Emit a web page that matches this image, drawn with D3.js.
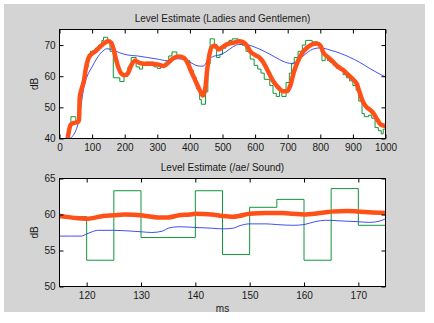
<!DOCTYPE html>
<html>
<head>
<meta charset="utf-8">
<script src="https://cdn.jsdelivr.net/npm/d3@7"></script>
<style>
  html, body { margin: 0; padding: 0; background: #ffffff; }
  svg { display: block; }
  text { font-family: "Liberation Sans", Arial, Helvetica, sans-serif; fill: #1a1a1a; }
</style>
</head>
<body>
<svg id="chart" width="434" height="323"></svg>
<script>
// ---------- data: top panel (Ladies and Gentlemen) ----------
const topTitle = "Level Estimate (Ladies and Gentlemen)";
const topXTicks = [0, 100, 200, 300, 400, 500, 600, 700, 800, 900, 1000];
const topYTicks = [40, 50, 60, 70];

// green: frame level estimate (staircase)
const topGreenX = [25, 30, 35, 50, 62, 68, 75, 80, 88, 95, 110, 120, 130, 135, 148, 155, 165, 185, 198, 210,
  220, 235, 245, 255, 265, 290, 300, 310, 325, 335, 345, 360, 375, 390, 400, 410, 420, 430, 435, 448,
  455, 462, 475, 482, 492, 500, 510, 520, 530, 548, 560, 572, 585, 597, 608, 618, 628, 645, 655, 665,
  675, 682, 695, 705, 712, 720, 732, 745, 755, 775, 790, 800, 805, 815, 822, 830, 840, 850, 860, 870,
  880, 890, 900, 910, 918, 928, 935, 948, 958, 968, 978, 987, 993, 1000];
const topGreenY = [38, 44, 47, 45, 54, 58, 61, 63, 67, 68, 69, 70, 71.5, 72.5, 71, 68, 59.5, 58.3, 60, 63,
  66, 63, 62.3, 64, 64.5, 63, 62.5, 63.5, 64.5, 66.5, 67.8, 66.5, 65.5, 65, 62, 59.5, 56, 52.5, 51, 55,
  64, 72, 69, 66, 67, 69, 70.5, 71.5, 72, 71, 70, 68, 65.5, 63.5, 62.3, 61, 59, 57, 54.5, 53.5,
  56, 53.5, 58, 61, 64, 66, 68, 70, 71.5, 71, 70.5, 69.5, 65, 66, 65, 64.5, 63.5, 62.5, 62, 60.5,
  59.5, 58.5, 57, 55.5, 52, 48, 47, 47.5, 46.5, 43.5, 42.5, 41.5, 43, 39];

// blue: slow level estimate
const topBlueX = [33, 45, 55, 62, 68, 75, 85, 100, 115, 130, 145, 160, 185, 210, 240, 270, 300, 330, 360, 380,
  400, 425, 440, 455, 470, 490, 510, 530, 550, 575, 600, 630, 660, 690, 710, 725, 740, 760, 780, 800,
  830, 860, 890, 920, 950, 975, 1000];
const topBlueY = [40, 41.5, 44, 47, 52, 56.5, 60, 63, 65.8, 67.8, 68.8, 68.6, 67.5, 66.8, 66.5, 66, 65.5, 65, 65.6, 65.5,
  64.5, 63.3, 63.2, 65, 66.3, 66.8, 67.8, 69.3, 70.2, 70.1, 69.3, 67.9, 66.2, 64.6, 64.1, 64.5, 65.8, 67.6, 68.8, 69.1,
  68.4, 67.4, 66.1, 64.5, 62.6, 61.1, 59.8];

// orange: fast smoothed level estimate
const topOrangeX = [25, 30, 35, 45, 55, 60, 62, 68, 75, 80, 88, 95, 110, 125, 140, 150, 158, 165, 172, 180,
  190, 200, 210, 220, 232, 245, 260, 280, 300, 320, 335, 350, 365, 380, 392, 402, 415, 428, 440, 447,
  453, 460, 468, 478, 488, 500, 515, 535, 550, 565, 575, 585, 600, 615, 625, 640, 655, 670, 685, 698,
  708, 718, 730, 745, 760, 775, 790, 800, 810, 825, 840, 855, 870, 885, 900, 912, 920, 930, 940, 955,
  965, 975, 985, 1000];
const topOrangeY = [40, 43, 44.5, 45, 45.3, 46, 53, 56, 58.5, 62, 65.5, 66.8, 68, 69.5, 70.8, 71.2, 70.8, 69, 66, 63,
  60.8, 60.3, 61, 63.5, 65, 64.3, 64, 64, 63.8, 63.3, 64.5, 65.8, 66.3, 66, 64.5, 62, 59, 56, 53.8, 56,
  62, 67, 69.5, 69.8, 68.6, 69.3, 70.3, 70.8, 71.2, 70.8, 69.8, 68, 66.8, 65.8, 64.5, 61.5, 58.5, 56.5, 55.2, 55.2,
  57, 61, 64.5, 67.5, 69.2, 70.2, 70.5, 69.8, 67.5, 66, 64.5, 63, 62, 60.5, 59, 57.5, 55, 52, 50.3, 49,
  47.8, 46, 44.5, 44];

// ---------- data: bottom panel (/ae/ sound) ----------
const botTitle = "Level Estimate (/ae/ Sound)";
const botXTicks = [120, 130, 140, 150, 160, 170];
const botYTicks = [50, 55, 60, 65];
const botXLabel = "ms";
const yLabel = "dB";

const botGreenX = [115, 120, 125, 130, 140, 145, 150, 155, 160, 165, 170, 175];
const botGreenY = [59.7, 53.65, 63.3, 56.8, 63.3, 54.45, 61.0, 62.1, 53.65, 63.6, 58.5, 57.9];

const botBlueX = [115, 119, 120, 121, 122, 125, 128, 130, 132, 134, 135, 137, 140, 143, 145, 147, 148, 150, 153, 155,
  158, 160, 162, 164, 167, 170, 172, 174, 175];
const botBlueY = [57.0, 57.0, 57.3, 57.6, 57.8, 57.8, 57.7, 57.6, 57.5, 57.7, 58.1, 58.3, 58.2, 58.1, 58.0, 58.1, 58.4, 58.7, 58.7, 58.6,
  58.5, 58.6, 59.0, 59.2, 59.1, 59.0, 58.9, 59.1, 59.4];

const botOrangeX = [115, 117, 118, 120, 121, 123, 125, 127, 130, 131, 133, 135, 137, 139, 140, 143, 145, 147, 148, 150,
  153, 156, 158, 160, 162, 164, 165, 168, 170, 172, 175];
const botOrangeY = [59.8, 59.6, 59.5, 59.4, 59.5, 59.8, 59.9, 60.0, 59.9, 59.8, 59.6, 59.6, 59.9, 60.0, 60.1, 60.0, 59.8, 59.7, 59.8, 60.1,
  60.2, 60.2, 60.1, 60.0, 60.1, 60.3, 60.4, 60.5, 60.4, 60.3, 60.2];

// ---------- drawing ----------
const svg = d3.select("#chart");
const W = 434, H = 323;
const COL_GREEN = "#12963a", COL_BLUE = "#2b3cf0", COL_ORANGE = "#ff5018";

svg.append("rect").attr("x", 0).attr("y", 0).attr("width", W).attr("height", H).attr("fill", "#ffffff");
svg.append("rect").attr("x", 4).attr("y", 4).attr("width", 421).attr("height", 308).attr("fill", "#d4d4d4");

function zip(xs, ys) { return xs.map((x, i) => [x, ys[i]]); }

function panel(cfg) {
  const { left, right, top, bottom, xDomain, yDomain, xTicks, yTicks, title, titleY, xLabel, id } = cfg;
  const x = d3.scaleLinear().domain(xDomain).range([left, right]);
  const y = d3.scaleLinear().domain(yDomain).range([bottom, top]);
  const g = svg.append("g");

  g.append("rect").attr("x", left).attr("y", top).attr("width", right - left).attr("height", bottom - top)
    .attr("fill", "#ffffff");

  svg.append("defs").append("clipPath").attr("id", id)
    .append("rect").attr("x", left).attr("y", top).attr("width", right - left).attr("height", bottom - top);

  const plot = g.append("g").attr("clip-path", `url(#${id})`);
  cfg.series.forEach(s => {
    const line = d3.line().x(d => x(d[0])).y(d => y(d[1])).curve(s.curve);
    plot.append("path").datum(zip(s.xs, s.ys))
      .attr("fill", "none").attr("stroke", s.color).attr("stroke-width", s.width)
      .attr("stroke-linejoin", "round").attr("stroke-linecap", "round")
      .attr("d", line);
  });

  // axes with inward ticks, mirrored on top/right
  const axB = g.append("g").attr("transform", `translate(0,${bottom})`)
    .call(d3.axisBottom(x).tickValues(xTicks).tickSize(-4).tickPadding(5).tickFormat(d3.format("d")));
  const axL = g.append("g").attr("transform", `translate(${left},0)`)
    .call(d3.axisLeft(y).tickValues(yTicks).tickSize(-4).tickPadding(4).tickFormat(d3.format("d")));
  const axT = g.append("g").attr("transform", `translate(0,${top})`)
    .call(d3.axisTop(x).tickValues(xTicks).tickSize(-4).tickFormat(""));
  const axR = g.append("g").attr("transform", `translate(${right},0)`)
    .call(d3.axisRight(y).tickValues(yTicks).tickSize(-4).tickFormat(""));
  [axB, axL, axT, axR].forEach(a => {
    a.select(".domain").remove();
    a.selectAll("line").attr("stroke", "#000").attr("stroke-width", 1);
    a.selectAll("text").attr("font-size", 10).attr("fill", "#1a1a1a")
      .attr("font-family", '"Liberation Sans", Arial, sans-serif');
  });
  g.append("rect").attr("x", left).attr("y", top).attr("width", right - left).attr("height", bottom - top)
    .attr("fill", "none").attr("stroke", "#000").attr("stroke-width", 1);

  g.append("text").attr("x", (left + right) / 2).attr("y", titleY).attr("text-anchor", "middle")
    .attr("font-size", 10).text(title);
  g.append("text").attr("transform", `translate(38,${(top + bottom) / 2}) rotate(-90)`)
    .attr("text-anchor", "middle").attr("font-size", 10).text(yLabel);
  if (xLabel) {
    g.append("text").attr("x", (left + right) / 2).attr("y", bottom + 25).attr("text-anchor", "middle")
      .attr("font-size", 10).text(xLabel);
  }
}

panel({
  id: "clipTop", left: 59.5, right: 385.5, top: 29.5, bottom: 138.5,
  xDomain: [0, 1000], yDomain: [40, 75], xTicks: topXTicks, yTicks: topYTicks,
  title: topTitle, titleY: 21.5,
  series: [
    { xs: topGreenX, ys: topGreenY, color: COL_GREEN, width: 1, curve: d3.curveStepAfter },
    { xs: topBlueX, ys: topBlueY, color: COL_BLUE, width: 0.9, curve: d3.curveMonotoneX },
    { xs: topOrangeX, ys: topOrangeY, color: COL_ORANGE, width: 4.5, curve: d3.curveMonotoneX }
  ]
});

panel({
  id: "clipBot", left: 59.5, right: 385.5, top: 178.5, bottom: 286.5,
  xDomain: [115, 175], yDomain: [50, 65], xTicks: botXTicks, yTicks: botYTicks,
  title: botTitle, titleY: 170.5, xLabel: botXLabel,
  series: [
    { xs: botGreenX, ys: botGreenY, color: COL_GREEN, width: 1, curve: d3.curveStepAfter },
    { xs: botBlueX, ys: botBlueY, color: COL_BLUE, width: 0.9, curve: d3.curveMonotoneX },
    { xs: botOrangeX, ys: botOrangeY, color: COL_ORANGE, width: 4.5, curve: d3.curveMonotoneX }
  ]
});
</script>
</body>
</html>
